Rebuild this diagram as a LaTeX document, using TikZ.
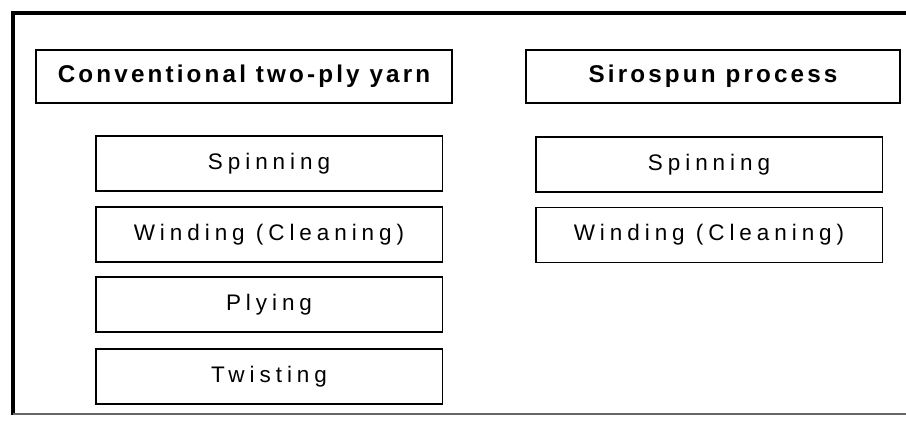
\documentclass[tikz,border=0pt]{standalone}
\usepackage{fontspec}
\setmainfont{Liberation Sans}
\newfontfamily\stepfont[LetterSpace=22]{Liberation Sans}
\newfontfamily\headfont[LetterSpace=13]{Liberation Sans}
\usetikzlibrary{positioning}

\tikzset{
  headbox/.style={draw, line width=1.1pt, minimum height=1.06cm, inner sep=0pt,
    font=\headfont\fontsize{13.8}{15}\selectfont\bfseries},
  stepbox/.style={draw, line width=1.1pt, minimum width=6.94cm, minimum height=1.1cm, inner sep=0pt,
    font=\stepfont\fontsize{12.8}{14}\selectfont},
}

\begin{document}
\begin{tikzpicture}[x=0.02cm, y=-0.02cm]
\useasboundingbox (0,0) rectangle (906,420);
% outer frame
\draw[line width=2.3pt] (13,415) -- (13,13) -- (906,13);
\draw[black!60, line width=1.1pt] (13,414) -- (906,414);

% headers
\node[headbox, minimum width=8.32cm] (conv) at (244,76.5) {Conventional two-ply yarn};
\node[headbox, minimum width=7.48cm] (siro) at (713,76.5) {Sirospun process};

% conventional steps
\node[stepbox] (cspin) at (269,163.5) {Spinning};
\node[stepbox] (cwind) at (269,234.5) {Winding (Cleaning)};
\node[stepbox] (cply) at (269,304.5) {Plying};
\node[stepbox] (ctwist) at (269,376.5) {Twisting};

% sirospun steps
\node[stepbox] (sspin) at (709,164.5) {Spinning};
\node[stepbox] (swind) at (709,235) {Winding (Cleaning)};
\end{tikzpicture}
\end{document}
